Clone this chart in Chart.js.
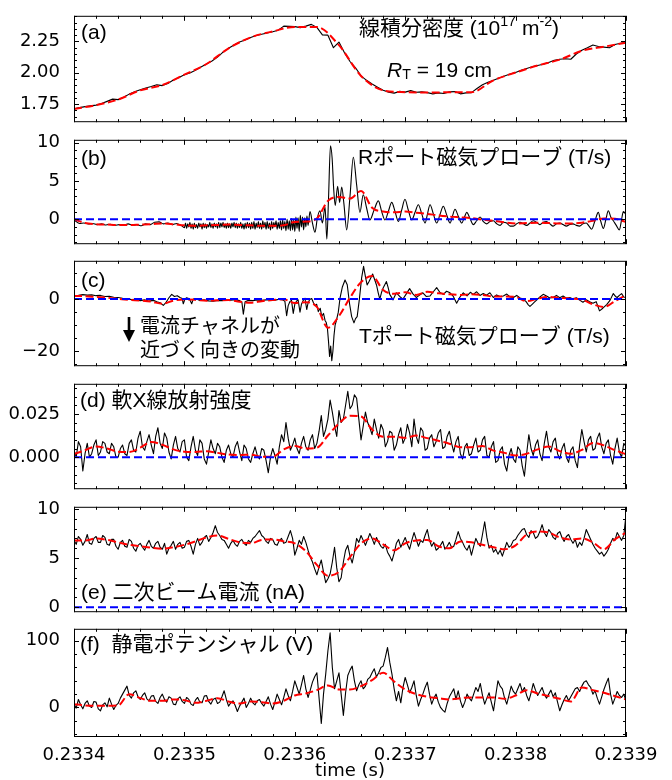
<!DOCTYPE html>
<html>
<head>
<meta charset="utf-8">
<script src="https://cdn.jsdelivr.net/npm/chart.js@4.4.0/dist/chart.umd.min.js"></script>
<style>
  html, body { margin: 0; padding: 0; background: #fff; }
  body { width: 672px; height: 780px; position: relative; overflow: hidden; }
  canvas { position: absolute; left: 0; }
</style>
</head>
<body>
<canvas id="pa"></canvas>
<canvas id="pb"></canvas>
<canvas id="pc"></canvas>
<canvas id="pd"></canvas>
<canvas id="pe"></canvas>
<canvas id="pf"></canvas>
<script>
// time axis (s); series sampled in microseconds after T0
const T0 = 0.2334;
const X_MIN = 0.2334, X_MAX = 0.2339, X_MINOR = 0.00002;
const xTickVals = [0.2334, 0.2335, 0.2336, 0.2337, 0.2338, 0.2339];

// (a) line-integrated density, black every 5 us, red every 20 us
const aStep = 5, aRedStep = 20;
const aBlack = [1.712,1.722,1.730,1.736,1.742,1.755,1.772,1.790,1.786,1.805,
  1.830,1.848,1.864,1.878,1.890,1.904,1.898,1.915,1.942,1.962,
  1.985,1.998,2.020,2.046,2.070,2.094,2.125,2.165,2.195,2.222,
  2.246,2.262,2.282,2.298,2.308,2.318,2.328,2.340,2.372,2.370,
  2.368,2.360,2.372,2.386,2.362,2.302,2.300,2.200,2.245,2.160,
  2.090,2.040,1.975,1.940,1.910,1.885,1.860,1.846,1.838,1.852,
  1.846,1.858,1.845,1.848,1.842,1.832,1.840,1.835,1.848,1.850,
  1.832,1.840,1.842,1.875,1.905,1.925,1.940,1.958,1.975,1.990,
  2.002,2.020,2.035,2.048,2.058,2.068,2.082,2.100,2.108,2.112,
  2.108,2.150,2.180,2.200,2.222,2.210,2.205,2.200,2.225,2.236,
  2.243];
const aRed = [1.712,1.742,1.787,1.860,1.902,1.985,2.070,2.195,2.282,2.330,2.366,2.365,2.220,
  1.975,1.860,1.845,1.842,1.845,1.845,1.940,2.002,2.058,2.105,2.175,2.208,2.240];

// (b) R-port magnetic probe, black as [us, value], red every 10 us
const bBlack = [[0,0.0],[2,-0.3],[5,-0.55],[9,-0.5],[13,-0.6],[17,-0.55],[21,-0.7],[25,-0.6],[29,-0.75],[33,-0.65],
  [37,-0.8],[41,-0.7],[45,-0.75],[49,-0.6],[53,-0.8],[57,-0.7],[61,-0.85],[65,-0.6],[69,-0.7],[73,-0.4],
  [77,-0.35],[81,-0.6],[85,-0.5],[89,-0.7],[93,-0.55],[97,-0.8],
  [100,-1.1],[101,-0.5],[102,-1.2],[103,-0.6],[104,-1.0],[105,-0.4],[106,-1.2],[107,-0.6],[108,-1.3],[109,-0.5],
  [110,-1.1],[111,-0.7],[112,-1.2],[113,-0.5],[114,-1.0],[115,-0.6],[116,-1.3],[117,-0.5],[118,-1.1],[119,-0.6],
  [120,-1.2],[121,-0.7],[122,-1.0],[123,-0.4],[124,-1.1],[125,-0.6],[126,-1.2],[127,-0.5],[128,-1.0],[129,-0.6],
  [130,-1.2],[131,-0.4],[132,-1.1],[133,-0.5],[134,-1.0],[135,-0.4],[136,-1.1],[137,-0.6],[138,-1.2],[139,-0.5],
  [140,-1.1],[141,-0.6],[142,-1.2],[143,-0.5],[144,-1.0],[145,-0.4],[146,-1.1],[147,-0.5],[148,-1.2],[149,-0.6],
  [150,-1.1],[151,-0.4],[152,-1.2],[153,-0.6],[154,-1.3],[155,-0.5],[156,-1.2],[157,-0.4],[158,-1.1],[159,-0.5],
  [160,-1.3],[161,-0.4],[162,-1.2],[163,-0.3],[164,-1.3],[165,-0.5],[166,-1.1],[167,-0.3],[168,-1.2],[169,-0.5],
  [170,-1.3],[171,-0.2],[172,-1.1],[173,-0.4],[174,-1.3],[175,-0.3],[176,-1.2],[177,-0.5],[178,-1.4],[179,-0.3],
  [180,-1.2],[181,-0.4],[182,-1.0],[183,-0.2],[184,-1.3],[185,-0.4],[186,-1.2],[187,-0.2],[188,-1.4],[189,-0.1],
  [190,-1.2],[191,-0.3],[192,-1.5],[193,0.0],[194,-1.3],[195,-0.2],[196,-1.5],[197,0.1],[198,-1.4],[199,-0.1],
  [200,-1.6],[201,0.3],[202,-1.2],[203,0.2],[204,-1.6],[205,0.5],[206,-1.0],[207,0.3],[208,-1.4],[209,0.2],
  [210,-1.0],[211,0.4],[212,-0.8],[213.8,1.0],[216,-0.5],[218.3,-1.7],
  [220.5,0.2],[222.8,1.1],[225,-0.5],[227.4,1.6],[229,-2.6],[230.5,2.5],[232.3,9.6],[233.8,8.0],[235.2,4.0],[236.6,1.8],
  [238.8,4.3],[240.6,2.2],[242.5,4.2],[244.5,2.0],[247,-1.4],[250,3.0],[253,8.1],[256,4.5],[259,0.9],[262,3.2],
  [265,1.5],[268,-0.1],[271.8,1.2],[275.7,2.4],[278.7,1.0],[281.7,-0.1],[284.7,1.0],[287.8,2.2],[290.8,1.0],[293.8,-0.3],
  [296.8,1.2],[299.8,2.6],[302.8,1.2],[305.9,-0.1],[308.9,0.9],[311.9,1.9],[315,0.7],[318,-0.5],[320.2,0.7],[322.5,1.9],
  [325.5,0.7],[328.5,-0.5],[331.5,0.6],[334.5,1.7],[337.5,0.6],[340.6,-0.5],[342.8,0.4],[345.1,1.3],[348.1,0.4],[351.2,-0.5],
  [353.5,0.2],[355.7,0.9],[358.7,0.1],[361.7,-0.7],[364.7,-0.2],[367.8,0.3],[370.8,-0.3],[373.8,-0.6],[376.8,-0.3],[379.8,-0.2],
  [382.9,-0.6],[385.9,-0.8],[388.9,-0.4],[391.9,-0.5],[395,-0.9],[398,-0.9],[401,-0.6],[404,-0.4],[407,-0.6],[410,-0.8],
  [413,-0.5],[416,-0.2],[419,-0.4],[422,-0.7],[425,-0.4],[428,-0.3],[431,-0.6],[434,-0.9],[437,-0.6],[440,-0.5],
  [443,-0.7],[446,-0.9],[449,-0.7],[452,-0.6],[455,-0.8],[458,-0.9],[461,-0.6],[464,-0.5],[466.5,-0.9],[468.9,-1.3],
  [471.9,-0.2],[474.9,0.9],[477.2,-0.3],[479.5,-1.2],[481.8,0.0],[484,1.1],[486.2,0.3],[488.5,-0.2],[491.2,-0.8],[494,-1.4],
  [495.8,-0.2],[497.6,1.0],[500,0.6]];
const bRed = [0.0,-0.5,-0.65,-0.7,-0.75,-0.75,-0.7,-0.65,-0.55,-0.65,
  -0.8,-0.85,-0.8,-0.75,-0.7,-0.75,-0.8,-0.85,-0.85,-0.8,
  -0.35,-0.3,0.1,2.4,2.9,2.7,3.7,1.5,1.0,0.9,
  1.0,0.85,0.7,0.5,0.35,0.25,0.15,-0.05,-0.2,-0.4,
  -0.55,-0.5,-0.45,-0.5,-0.55,-0.55,-0.45,-0.2,0.1,0.05,
  -0.35];

// (c) T-port magnetic probe, black as [us, value], red every 10 us
const cBlack = [[0,1.2],[4,1.4],[8,1.7],[12,1.5],[16,1.6],[20,1.3],[24,1.4],[28,1.0],[32,1.1],[36,0.7],
  [40,0.6],[44,0.3],[48,0.2],[52,-0.2],[56,-0.1],[60,-0.6],[64,-0.3],[68,-0.8],[72,-0.5],[75,-1.0],
  [78,-1.4],[80.9,-2.4],[83,-1.5],[86,0.5],[88.5,1.8],[91,1.0],[93.5,1.3],[96,0.6],[98,0.2],[99,-1.8],
  [100.5,0.0],[102,0.5],[104.5,0.1],[106.6,-1.8],[108,0.0],[110,0.2],[114,-0.5],[118,-0.3],[122,-0.7],[126,-0.8],
  [130,-0.5],[134,-0.6],[138,-0.3],[142,-0.4],[146,-0.2],[150,-0.6],[152,-1.0],[153.4,-5.8],[155,-1.0],[158,-0.5],
  [162,-0.6],[166,-0.3],[170,-0.5],[174,-0.3],[178,-0.2],[182,-0.4],[186,-0.1],[189,-0.3],[191,-0.8],[192.6,-6.4],
  [194,-2.5],[195.5,-1.0],[197,-0.5],[198.6,-5.5],[200,-2.0],[201.5,-0.8],[203,-0.3],[204.7,-5.0],[206,-2.0],[207.5,-0.6],
  [209.2,0.3],[210.8,-4.0],[212,-1.5],[213.5,-0.2],[215.3,0.2],[217,-1.5],[218.3,-2.5],[219.8,-2.0],[221.3,-4.8],[223,-3.5],
  [224.4,-6.6],[226,-5.5],[227.4,-8.2],[228.5,-9.0],[229.5,-11.0],[230.5,-16],[231.5,-22],[232.5,-18],[233.5,-23.6],[234.5,-20],
  [235.5,-14],[236.5,-10],[237.5,-8.5],[239.4,-5.0],[241,0.5],[243,4.5],[245.5,7.3],[247.5,5.5],[249.5,-1.5],[251.5,-6.7],
  [253.6,-9.1],[255,-7.5],[256.5,-6.7],[258.5,0.0],[260.5,8.0],[262.3,12.5],[264,8.5],[265.5,5.4],[267,6.5],[268.5,7.8],
  [270.5,9.6],[272.3,7.5],[274,5.4],[275.5,2.5],[277,0.0],[278.5,2.5],[280,4.2],[281.5,5.5],[283,6.7],[284.5,4.5],
  [286,1.8],[289,-0.3],[292,2.4],[295,1.0],[298,0.0],[301,2.0],[304,4.0],[307,2.0],[310,0.6],[313,1.5],
  [316,2.4],[319,1.0],[322.5,1.2],[325.5,2.8],[328.5,4.4],[331.5,2.5],[334.5,1.8],[337.5,3.0],[340.6,2.4],[343.6,1.0],
  [346.6,-1.6],[349.6,0.8],[352.6,2.4],[356,1.2],[359,2.6],[361.7,1.8],[364.7,2.8],[367.7,1.4],[370.7,2.1],[373.7,1.5],
  [376.7,2.4],[379.8,0.6],[382.8,1.6],[385.8,1.0],[388.9,1.2],[392,1.9],[395,0.8],[398,0.6],[401,1.4],[404,0.4],
  [407,0.0],[409.5,-1.0],[411.5,-2.2],[413,-2.8],[415,-2.0],[417,-1.2],[419,-0.4],[422,0.8],[425,1.8],[428,1.2],
  [431,0.4],[434,0.6],[437,1.4],[440,0.5],[443,1.2],[446,0.3],[449,0.6],[452,0.0],[455,0.5],[458,-0.4],
  [461,-1.2],[464,-0.3],[467,-1.0],[470,-1.6],[473,-1.0],[476,-4.5],[479,-3.5],[482.5,-2.1],[485.5,-0.5],[488.5,2.1],
  [490.5,1.0],[492,0.6],[494,1.4],[496,2.1],[498,0.8],[500,0.6]];
const cRed = [1.2,1.1,0.8,0.5,0.1,-0.3,-0.6,-1.0,-1.8,-0.6,
  -0.2,-0.3,-0.6,-0.5,-0.4,-1.0,-1.4,-0.8,-0.4,-0.1,
  -1.5,-1.2,-3.0,-11.0,-6.5,0.5,6.5,8.8,3.5,2.0,
  2.6,1.6,2.8,2.2,1.8,1.6,1.8,1.6,1.0,1.0,
  0.8,-0.8,0.2,0.8,0.5,0.2,-0.2,-2.0,-3.0,-0.8,
  1.5];

// (d) soft X-ray, (e) secondary beam current, (f) potential: black every 2 us, red every 10 us
const noiseStep = 2, redStep = 10;
const dBlack = [0.004,0.000,0.009,0.006,-0.008,0.002,0.008,0.000,0.002,0.007,0.010,0.001,0.003,0.009,0.008,0.003,0.002,0.008,0.006,0.000,
  0.000,0.005,0.007,0.002,0.001,0.008,0.010,0.004,0.003,0.011,0.015,0.006,0.004,0.009,0.013,0.007,0.002,0.012,0.017,0.008,
  0.005,0.014,0.011,0.003,-0.001,0.007,0.012,0.005,0.003,0.009,0.010,0.000,-0.002,0.006,0.012,0.004,0.001,0.010,0.008,-0.001,
  -0.004,0.003,0.010,0.005,0.002,0.008,0.006,0.000,-0.003,0.004,0.007,0.002,0.000,0.006,0.009,0.003,-0.002,0.007,0.005,-0.001,
  -0.003,0.002,0.006,0.001,-0.001,0.005,0.004,-0.002,-0.009,0.000,0.005,0.001,-0.004,0.006,0.013,0.009,0.020,0.011,0.004,0.007,
  0.011,0.005,0.002,0.008,0.012,0.006,0.004,0.010,0.013,0.005,0.008,0.015,0.024,0.012,0.016,0.022,0.033,0.026,0.018,0.012,
  0.027,0.020,0.022,0.030,0.038,0.028,0.030,0.036,0.034,0.022,0.010,0.018,0.026,0.020,0.017,0.013,0.022,0.016,0.011,0.019,
  0.016,0.006,0.009,0.015,0.014,0.004,0.007,0.013,0.017,0.008,0.011,0.019,0.014,0.006,0.022,0.012,0.008,0.017,0.015,0.004,
  0.005,0.011,0.013,0.006,0.009,0.014,0.016,0.005,0.006,0.012,0.015,0.008,0.003,0.009,0.012,0.002,-0.001,0.006,0.008,0.001,
  0.002,0.007,0.011,0.003,0.004,0.010,0.012,0.001,0.000,0.006,0.009,-0.003,-0.002,0.004,0.006,-0.004,-0.008,0.001,0.005,-0.001,
  -0.003,0.006,0.004,-0.005,-0.011,0.002,0.013,0.005,0.001,0.007,0.010,0.002,-0.002,0.008,0.015,0.006,0.003,0.009,0.011,0.002,
  -0.001,0.005,0.008,0.000,-0.003,0.004,0.006,-0.002,-0.006,0.007,0.016,0.009,0.003,0.010,0.012,0.004,0.005,0.011,0.014,0.006,
  0.002,0.008,0.010,0.001,-0.004,0.005,0.011,0.003,0.000,0.008,0.006];
const dRed = [0.0018,0.004,0.0062,0.005,0.0032,0.003,0.0055,0.0088,0.0072,0.0045,
  0.0032,0.003,0.0035,0.0025,0.0015,0.0012,0.0015,0.0003,0.0003,0.0045,
  0.0065,0.005,0.0055,0.0125,0.0195,0.024,0.0235,0.016,0.0118,0.0118,
  0.0112,0.0125,0.011,0.0095,0.0078,0.0058,0.0058,0.0064,0.0038,0.0025,
  0.001,0.002,0.0045,0.0062,0.0035,0.002,0.0042,0.0082,0.0068,0.004,
  0.0018];
const eBlack = [6.8,6.4,7.2,6.9,6.3,6.7,7.4,6.5,6.4,7.0,7.2,6.6,6.6,7.3,7.1,6.4,6.3,6.9,6.9,6.2,
  5.9,6.6,6.8,6.2,6.1,6.9,6.7,6.0,5.7,6.3,6.5,6.1,5.8,6.4,6.8,6.2,6.0,6.5,6.7,6.1,
  5.9,6.5,5.4,6.0,6.3,6.7,5.9,6.4,6.6,6.0,6.1,6.7,6.8,6.2,5.4,6.4,7.0,6.3,6.6,7.1,
  7.3,6.7,7.1,7.6,8.3,7.6,7.3,6.9,6.8,6.4,6.0,6.5,6.8,6.4,6.2,6.7,6.9,6.5,6.3,6.8,
  6.6,7.0,7.2,7.5,7.8,7.3,7.1,6.7,6.5,7.0,6.9,6.4,6.3,6.8,7.0,6.5,6.6,7.2,7.8,7.0,
  5.3,6.0,6.8,6.4,7.2,6.6,5.8,5.1,4.6,3.9,3.3,4.1,4.8,3.6,2.5,2.9,3.4,4.6,6.1,4.0,
  2.6,3.0,4.6,5.8,6.3,5.2,4.5,5.6,7.0,6.6,7.3,6.8,6.3,6.9,7.5,7.0,6.4,7.1,6.6,6.2,
  6.0,6.4,5.6,5.2,4.7,5.5,6.5,6.9,6.1,6.6,7.1,6.4,5.9,6.8,7.6,6.9,6.2,6.8,6.6,7.3,
  7.9,6.8,6.2,6.6,5.8,6.0,6.3,6.7,5.9,6.2,6.6,6.1,6.2,6.9,7.7,7.0,6.6,6.1,5.8,6.3,
  5.3,6.2,7.0,6.5,6.2,7.4,8.7,7.1,6.0,6.3,5.6,5.9,5.4,5.8,5.2,5.9,6.6,6.1,6.3,6.8,
  6.9,7.3,7.6,7.9,8.0,7.4,7.1,7.8,7.6,7.0,7.2,7.7,8.4,7.6,7.2,7.9,7.6,7.1,6.9,7.5,
  7.7,7.1,6.7,7.2,7.4,6.9,6.5,6.9,6.1,6.6,6.3,7.0,7.9,7.4,6.9,6.4,6.0,5.7,5.4,5.6,
  5.2,5.5,5.9,6.5,7.0,6.8,7.6,7.2,6.8,7.3,9.4];
const eRed = [6.8,6.8,7.0,6.85,6.6,6.35,6.2,6.05,5.95,6.1,
  6.35,6.7,7.1,7.3,6.95,6.6,6.5,6.85,6.9,6.7,
  6.5,5.7,4.3,3.2,3.6,5.1,6.5,7.0,6.4,5.8,
  6.5,6.8,6.85,6.2,6.0,6.7,6.6,6.35,6.1,5.9,
  6.3,7.4,7.7,7.6,7.1,6.9,7.0,6.6,5.9,6.9,
  7.6];
const fBlack = [5,-1,12,4,-2,6,10,2,0,9,8,-2,-5,4,7,1,14,5,-3,3,
  6,14,20,26,32,18,14,22,25,16,12,18,22,13,10,17,18,9,6,15,
  20,12,8,16,14,5,4,13,16,9,6,15,12,5,3,11,15,8,7,17,
  18,9,5,12,14,6,8,16,25,12,2,7,10,3,-6,2,8,14,0,6,
  14,7,4,10,12,6,2,9,16,5,-3,8,20,12,4,15,28,18,10,24,
  40,30,20,34,48,28,15,26,38,46,52,14,-24,20,50,85,112,60,28,40,
  52,20,-12,22,48,56,62,40,25,34,40,28,32,42,45,52,58,46,52,60,
  62,75,90,68,50,28,10,24,7,30,45,34,22,30,40,18,2,12,20,30,
  38,20,5,14,20,8,0,-4,-7,6,16,22,28,12,25,10,0,8,20,14,
  10,20,30,24,36,18,5,14,22,8,-5,18,40,32,28,14,5,18,32,24,
  20,28,36,24,30,18,10,22,36,26,18,24,30,20,14,20,26,16,22,8,
  -5,4,12,18,10,16,22,28,30,24,32,38,40,34,30,20,25,14,5,16,
  27,36,44,20,5,14,24,18,15,20,10];
const fRed = [5,3,2.5,2.5,3,20,14,10,10,12,
  11,7,10,14,9,6,9,8,6,10,
  18,21,26,33,27,27,32,41,52,39,
  27,20,16,14,12,14,15,15,15,13,
  18,26,21,17,13,9,30,26,22,17,
  12];

// y tick labels per panel
const aTicks = [1.75, 2.00, 2.25];
const bTicks = [0, 5, 10];
const cTicks = [-20, 0];
const dTicks = [0, 0.025];
const eTicks = [0, 5, 10];
const fTicks = [0, 100];

const TICK_FONT = '"DejaVu Sans", sans-serif';
const TEXT_FONT = '"Liberation Sans", "Noto Sans CJK JP", sans-serif';

function uniform(stepUs, vals) {
  return vals.map((v, i) => ({ x: T0 + i * stepUs * 1e-6, y: v }));
}
function pairs(list) {
  return list.map(p => ({ x: T0 + p[0] * 1e-6, y: p[1] }));
}
function blackLine(data) {
  return { data: data, borderColor: '#000', borderWidth: 1.1, pointRadius: 0, tension: 0, borderJoinStyle: 'round' };
}
function smoothBlack(data) {
  return { data: data, borderColor: '#000', borderWidth: 1.1, pointRadius: 0, cubicInterpolationMode: 'monotone' };
}
function redLine(data) {
  return { data: data, borderColor: '#ff0000', borderWidth: 2, borderDash: [8, 3.5], pointRadius: 0, cubicInterpolationMode: 'monotone' };
}
function zeroLine() {
  return { data: [{ x: X_MIN, y: 0 }, { x: X_MAX, y: 0 }], borderColor: '#0000ff', borderWidth: 2, borderDash: [8, 4], pointRadius: 0 };
}

function stepsBetween(min, max, step) {
  const out = [];
  const k0 = Math.ceil(min / step - 1e-6), k1 = Math.floor(max / step + 1e-6);
  for (let k = k0; k <= k1; k++) out.push(k * step);
  return out;
}

// text annotations, page coordinates (x = left edge, y = vertical centre)
const notesById = {
  pa: [
    { x: 81, y: 33, parts: [['(a)']] },
    { x: 359, y: 29, parts: [['線積分密度 (10'], ['17', 'sup'], [' m'], ['-2', 'sup'], [')']] },
    { x: 387, y: 71, parts: [['R', 'it'], ['T', 'sub'], [' = 19 cm']] }
  ],
  pb: [
    { x: 81, y: 159, parts: [['(b)']] },
    { x: 358, y: 158, parts: [['Rポート磁気プローブ (T/s)']] }
  ],
  pc: [
    { x: 81, y: 281.5, parts: [['(c)']] },
    { x: 140, y: 327, size: 20, parts: [['電流チャネルが']] },
    { x: 140, y: 351.5, size: 20, parts: [['近づく向きの変動']] },
    { x: 359, y: 337, parts: [['Tポート磁気プローブ (T/s)']] }
  ],
  pd: [ { x: 80, y: 401, parts: [['(d) 軟X線放射強度']] } ],
  pe: [ { x: 81, y: 593, parts: [['(e) 二次ビーム電流 (nA)']] } ],
  pf: [ { x: 80, y: 645, parts: [['(f)  静電ポテンシャル (V)']] } ]
};

// panel geometry and y axes, keyed by canvas id
const panelCfg = {};

function drawRich(ctx, x, y, parts, size) {
  parts.forEach(p => {
    const txt = p[0], kind = p[1] || '';
    let s = size, dy = 0, style = '';
    if (kind === 'sup') { s = size * 0.68; dy = -size * 0.33; }
    if (kind === 'sub') { s = size * 0.68; dy = size * 0.2; }
    if (kind === 'it') style = 'italic ';
    ctx.font = style + s + 'px ' + TEXT_FONT;
    ctx.fillText(txt, x, y + dy);
    x += ctx.measureText(txt).width;
  });
}

// frame with inward major/minor ticks on all four sides
const axesBox = {
  id: 'axesBox',
  afterDraw(chart) {
    const cfg = panelCfg[chart.canvas.id];
    if (!cfg) return;
    const ctx = chart.ctx, ca = chart.chartArea;
    const xs = chart.scales.x, ys = chart.scales.y;
    const MAJ = 5, MIN = 3;
    const near = (v, list, step) => list.some(t => Math.abs(t - v) < step * 0.01);
    ctx.save();
    ctx.strokeStyle = '#000';
    ctx.lineWidth = 1;
    ctx.beginPath();
    stepsBetween(X_MIN, X_MAX, X_MINOR).forEach(v => {
      const p = Math.round(xs.getPixelForValue(v)) + 0.5;
      const len = near(v, xTickVals, X_MINOR) ? MAJ : MIN;
      ctx.moveTo(p, ca.top); ctx.lineTo(p, ca.top + len);
      ctx.moveTo(p, ca.bottom); ctx.lineTo(p, ca.bottom - len);
    });
    stepsBetween(cfg.yMin, cfg.yMax, cfg.yMinor).forEach(v => {
      const p = Math.round(ys.getPixelForValue(v)) + 0.5;
      const len = near(v, cfg.yTicks, cfg.yMinor) ? MAJ : MIN;
      ctx.moveTo(ca.left, p); ctx.lineTo(ca.left + len, p);
      ctx.moveTo(ca.right, p); ctx.lineTo(ca.right - len, p);
    });
    ctx.stroke();
    ctx.strokeRect(ca.left + 0.5, ca.top + 0.5, ca.width - 1, ca.height - 1);

    // annotations
    const off = cfg.canvasTop;
    ctx.fillStyle = '#000';
    ctx.textBaseline = 'middle';
    ctx.textAlign = 'left';
    (notesById[chart.canvas.id] || []).forEach(it => drawRich(ctx, it.x, it.y - off, it.parts, it.size || 21));
    if (chart.canvas.id === 'pc') {
      // downward arrow before the annotation
      ctx.lineWidth = 2.6;
      ctx.beginPath();
      ctx.moveTo(129, 317 - off); ctx.lineTo(129, 333 - off);
      ctx.stroke();
      ctx.beginPath();
      ctx.moveTo(123, 330 - off); ctx.lineTo(135, 330 - off); ctx.lineTo(129, 342 - off);
      ctx.closePath();
      ctx.fill();
    }
    ctx.restore();
  }
};

const M = 14;
function createPanel(cfg, datasets) {
  const cv = document.getElementById(cfg.id);
  const last = cfg.id === 'pf';
  cfg.canvasTop = cfg.top - M;
  panelCfg[cfg.id] = cfg;
  const h = last ? 780 - cfg.canvasTop : (cfg.bottom - cfg.top) + 2 * M;
  cv.width = 672;
  cv.height = h;
  cv.style.top = cfg.canvasTop + 'px';
  return new Chart(cv, {
    type: 'line',
    data: { datasets: datasets },
    options: {
      responsive: false,
      animation: false,
      devicePixelRatio: 1,
      events: [],
      layout: { padding: { left: 0, right: 672 - 626, top: M, bottom: last ? 0 : M } },
      plugins: { legend: { display: false }, tooltip: { enabled: false } },
      scales: {
        x: {
          type: 'linear', min: X_MIN, max: X_MAX, display: last,
          grid: { display: false }, border: { display: false },
          afterBuildTicks: s => { s.ticks = xTickVals.map(v => ({ value: v })); },
          afterFit: s => { if (last) s.height = 780 - cfg.bottom; },
          ticks: { autoSkip: false, maxRotation: 0, padding: 0, color: '#000',
                   font: { size: 18, family: TICK_FONT }, callback: v => v.toFixed(4) },
          title: { display: last, text: 'time (s)', color: '#000',
                   font: { size: 18, family: TICK_FONT, lineHeight: 1 }, padding: { top: 0, bottom: 0 } }
        },
        y: {
          type: 'linear', min: cfg.yMin, max: cfg.yMax,
          grid: { display: false }, border: { display: false },
          afterBuildTicks: s => { s.ticks = cfg.yTicks.map(v => ({ value: v })); },
          afterFit: s => { s.width = 74; },
          ticks: { padding: 6, color: '#000', font: { size: 18, family: TICK_FONT }, callback: cfg.fmt }
        }
      }
    },
    plugins: [axesBox]
  });
}

const minusFmt = v => (v < 0 ? '\u2212' + Math.abs(v) : String(v));

createPanel({ id: 'pa', top: 13, bottom: 125, yMin: 1.606, yMax: 2.4545, yTicks: aTicks, yMinor: 0.05, fmt: v => v.toFixed(2) },
  [redLine(uniform(aRedStep, aRed)), blackLine(uniform(aStep, aBlack))]);
createPanel({ id: 'pb', top: 137, bottom: 247, yMin: -3.26, yMax: 10.37, yTicks: bTicks, yMinor: 1, fmt: minusFmt },
  [zeroLine(), redLine(uniform(redStep, bRed)), smoothBlack(pairs(bBlack))]);
createPanel({ id: 'pc', top: 258, bottom: 369, yMin: -25.7, yMax: 14.65, yTicks: cTicks, yMinor: 5, fmt: minusFmt },
  [zeroLine(), redLine(uniform(redStep, cRed)), blackLine(pairs(cBlack))]);
createPanel({ id: 'pd', top: 381, bottom: 492, yMin: -0.01848, yMax: 0.04238, yTicks: dTicks, yMinor: 0.005, fmt: v => v.toFixed(3) },
  [zeroLine(), redLine(uniform(redStep, dRed)), blackLine(uniform(noiseStep, dBlack))]);
createPanel({ id: 'pe', top: 504, bottom: 615, yMin: -0.51, yMax: 10.22, yTicks: eTicks, yMinor: 1, fmt: minusFmt },
  [zeroLine(), redLine(uniform(redStep, eRed)), blackLine(uniform(noiseStep, eBlack))]);
createPanel({ id: 'pf', top: 626, bottom: 737, yMin: -44.3, yMax: 118, yTicks: fTicks, yMinor: 20, fmt: minusFmt },
  [redLine(uniform(redStep, fRed)), blackLine(uniform(noiseStep, fBlack))]);
</script>
</body>
</html>
